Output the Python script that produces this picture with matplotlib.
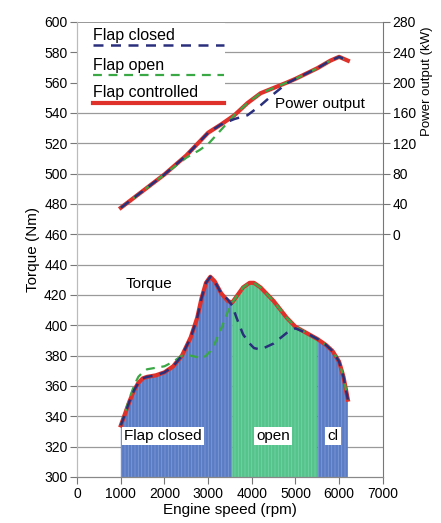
import numpy as np
import matplotlib
matplotlib.use('Agg')
import matplotlib.pyplot as plt
from matplotlib.patches import Rectangle

plt.rcParams['font.family'] = ['Liberation Sans', 'DejaVu Sans']
plt.rcParams['hatch.linewidth'] = 0.6

# torque curves (Nm) vs engine speed (rpm)
rpm_tq = [1000, 1100, 1200, 1300, 1400, 1500, 1600, 1800, 2000, 2200, 2400, 2600,
          2750, 2850, 2950, 3050, 3150, 3300, 3450, 3550, 3650, 3800, 3950, 4050,
          4200, 4500, 4800, 5000, 5250, 5500, 5700, 5850, 6000, 6100, 6200]
tq_ctrl = [334, 342, 350, 357, 362, 365, 366, 367, 369, 373, 380, 392,
           405, 418, 428, 432, 429, 421, 416, 415, 419, 425, 428, 428,
           425, 416, 405, 399, 395, 391, 387, 383, 376, 366, 351]
tq_closed = [334, 342, 350, 357, 362, 365, 366, 367, 369, 373, 380, 392,
             405, 418, 428, 432, 429, 421, 417, 413, 405, 394, 388, 385,
             384, 388, 395, 398, 395, 391, 387, 383, 376, 366, 351]
tq_open = [334, 343, 352, 360, 366, 369, 371, 372, 373, 376, 380, 380,
           379, 378, 380, 383, 388, 398, 409, 415, 419, 425, 428, 428,
           425, 416, 405, 399, 395, 391, 387, 383, 376, 366, 351]

# power output curves (kW) vs engine speed (rpm)
rpm_pw = [1000, 1500, 2000, 2500, 2800, 3000, 3300, 3600, 3900, 4200, 4500, 4800,
          5000, 5500, 5800, 6000, 6200]
pw_ctrl = [35, 57, 79, 104, 122, 134, 145, 157, 173, 186, 193, 200,
           205, 219, 229, 234, 229]
pw_closed = [35, 57, 79, 104, 122, 134, 145, 152, 157, 170, 185, 199,
             205, 219, 229, 234, 229]
pw_open = [35, 57, 79, 101, 111, 119, 138, 157, 173, 186, 193, 200,
           205, 219, 229, 234, 229]

# flap regions
region_edges = [1000, 3550, 5500, 6200]
region_names = ['Flap closed', 'open', 'cl']
region_colors = ['#5a7cc4', '#55c38c', '#5a7cc4']

fig = plt.figure(figsize=(4.41, 5.23), dpi=100)
ax = fig.add_axes([0.175, 0.088, 0.693, 0.870])
ax2 = ax.twinx()

ax.set_xlim(0, 7000)
ax.set_ylim(300, 600)
ax2.set_ylim(-320, 280)

# grid
for v in range(320, 620, 20):
    ax.axhline(v, color='#9a9a9a', lw=0.9, zorder=0)

# filled regions under torque curve
x = np.array(rpm_tq)
y = np.array(tq_ctrl)
for i in range(3):
    m = (x >= region_edges[i]) & (x <= region_edges[i + 1])
    ax.fill_between(x[m], 300, y[m], facecolor=region_colors[i],
                    edgecolor='#7f9ad6' if i != 1 else '#74d3a4',
                    hatch='|||||', lw=0, zorder=1)

# torque lines
ax.plot(rpm_tq, tq_ctrl, color='#e0302a', lw=3, zorder=3)
ax.plot(rpm_tq, tq_open, color='#3aa845', lw=1.6, ls=(0, (4, 3)), zorder=4)
ax.plot(rpm_tq, tq_closed, color='#2a2f7c', lw=1.8, ls=(0, (4, 3)), zorder=5)

# power lines
ax2.plot(rpm_pw, pw_ctrl, color='#e0302a', lw=3, zorder=3)
ax2.plot(rpm_pw, pw_open, color='#3aa845', lw=1.6, ls=(0, (4, 3)), zorder=4)
ax2.plot(rpm_pw, pw_closed, color='#2a2f7c', lw=1.8, ls=(0, (4, 3)), zorder=5)

# annotations
ax.text(1650, 427, 'Torque', fontsize=11, ha='center', va='center', zorder=6)
ax2.text(4530, 172, 'Power output', fontsize=11, ha='left', va='center', zorder=6)
lab_x = [1970, 4490, 5860]
for name, lx in zip(region_names, lab_x):
    ax.text(lx, 327, name, fontsize=11, ha='center', va='center', zorder=6,
            bbox=dict(facecolor='white', edgecolor='none', pad=1.5))

# legend block
ax.add_patch(Rectangle((0.003, 0.812), 0.48, 0.185, transform=ax.transAxes,
                       facecolor='white', edgecolor='none', zorder=2))
leg = [('Flap closed', '#2a2f7c', (0, (4, 3)), 1.8, 0.971, 0.949),
       ('Flap open', '#3aa845', (0, (4, 3)), 1.6, 0.905, 0.883),
       ('Flap controlled', '#e0302a', '-', 3, 0.846, 0.822)]
for txt, c, ls, lw, ty, ly in leg:
    ax.text(0.052, ty, txt, transform=ax.transAxes, fontsize=11.5,
            ha='left', va='center', zorder=6)
    ax.plot([0.052, 0.48], [ly, ly], transform=ax.transAxes, color=c,
            ls=ls, lw=lw, zorder=6, clip_on=False)

# ticks and spines
ax.set_xticks(range(0, 7001, 1000))
ax.set_yticks(range(300, 601, 20))
ax2.set_yticks(range(0, 281, 40))
ax.tick_params(labelsize=10, length=5, width=0.8, color='#777777', pad=2)
ax2.tick_params(labelsize=10, length=5, width=0.8, color='#777777', pad=2)
for a in (ax, ax2):
    a.spines['top'].set_visible(False)
    a.spines['left'].set_color('#bbbbbb')
    a.spines['bottom'].set_color('#888888')
    a.spines['right'].set_color('#777777')
ax.spines['right'].set_visible(False)

ax.set_xlabel('Engine speed (rpm)', fontsize=11, labelpad=2)
ax.set_ylabel('Torque (Nm)', fontsize=11, labelpad=3)
ax2.set_ylabel('Power output (kW)', fontsize=9.5)
ax2.yaxis.set_label_coords(1.125, 0.87)

fig.savefig('out.png', dpi=100)
